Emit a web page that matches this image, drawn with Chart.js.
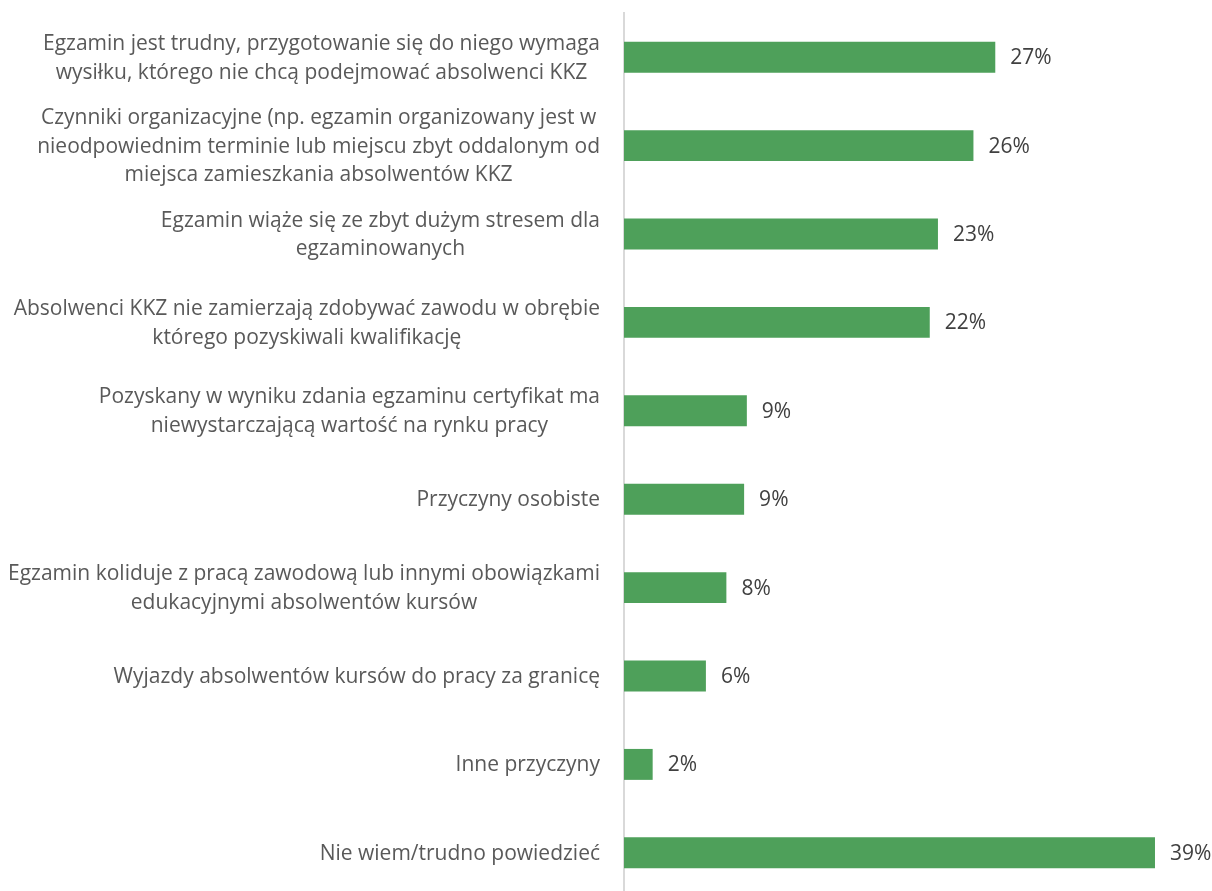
<!DOCTYPE html>
<html>
<head>
<meta charset="utf-8">
<script src="https://cdn.jsdelivr.net/npm/chart.js@4"></script>
<style>
  html, body { margin: 0; padding: 0; background: #fff; overflow: hidden; }
  canvas { display: block; }
</style>
</head>
<body>
<canvas id="chart" width="1212" height="898"></canvas>
<script>
// categories (each one split into its display lines)
const categories = [
    ['Egzamin jest trudny, przygotowanie się do niego wymaga', 'wysiłku, którego nie chcą podejmować absolwenci KKZ'],
    ['Czynniki organizacyjne (np. egzamin organizowany jest w', 'nieodpowiednim terminie lub miejscu zbyt oddalonym od', 'miejsca zamieszkania absolwentów KKZ'],
    ['Egzamin wiąże się ze zbyt dużym stresem dla', 'egzaminowanych'],
    ['Absolwenci KKZ nie zamierzają zdobywać zawodu w obrębie', 'którego pozyskiwali kwalifikację'],
    ['Pozyskany w wyniku zdania egzaminu certyfikat ma', 'niewystarczającą wartość na rynku pracy'],
    ['Przyczyny osobiste'],
    ['Egzamin koliduje z pracą zawodową lub innymi obowiązkami', 'edukacyjnymi absolwentów kursów'],
    ['Wyjazdy absolwentów kursów do pracy za granicę'],
    ['Inne przyczyny'],
    ['Nie wiem/trudno powiedzieć']
];

// share of answers, percent
const values = [27.2, 25.6, 23.0, 22.4, 9.0, 8.8, 7.5, 6.0, 2.1, 38.9];

const FONT = '"Open Sans", sans-serif';

const labelPlugin = {
    id: 'labels',
    afterDraw(chart) {
        const ctx = chart.ctx;
        const yScale = chart.scales.y;
        ctx.save();
        ctx.font = '21px ' + FONT;
        ctx.textBaseline = 'middle';

        // category labels: block right aligned, lines centred inside the block
        ctx.fillStyle = '#595959';
        ctx.textAlign = 'center';
        const lineH = 28.8;
        categories.forEach((lines, i) => {
            const y = yScale.getPixelForValue(i);
            let w = 0;
            lines.forEach(l => { w = Math.max(w, ctx.measureText(l).width); });
            const cx = 600 - w / 2;
            const y0 = y - (lines.length - 1) * lineH / 2 + 1;
            lines.forEach((l, k) => ctx.fillText(l, cx, y0 + k * lineH));
        });

        // value labels
        ctx.fillStyle = '#404040';
        ctx.textAlign = 'left';
        chart.getDatasetMeta(0).data.forEach((bar, i) => {
            ctx.fillText(Math.round(values[i]) + '%', bar.x + 15, bar.y + 1);
        });
        ctx.restore();
    }
};

const ctx = document.getElementById('chart').getContext('2d');
const chart = new Chart(ctx, {
    type: 'bar',
    data: {
        labels: categories.map(c => c.join(' ')),
        datasets: [{
            data: values,
            backgroundColor: '#4ea05a',
            borderWidth: 0,
            barPercentage: 0.7,
            categoryPercentage: 0.5
        }]
    },
    options: {
        indexAxis: 'y',
        responsive: false,
        animation: false,
        layout: { padding: { top: 13, right: 42, bottom: 1, left: 0 } },
        plugins: {
            legend: { display: false },
            tooltip: { enabled: false }
        },
        scales: {
            x: {
                display: false,
                min: 0,
                max: 40
            },
            y: {
                offset: true,
                grid: { display: false },
                ticks: { display: false },
                border: { display: true, color: '#d9d9d9', width: 2 },
                afterFit: s => { s.width = 624; }
            }
        }
    },
    plugins: [labelPlugin]
});
</script>
</body>
</html>
